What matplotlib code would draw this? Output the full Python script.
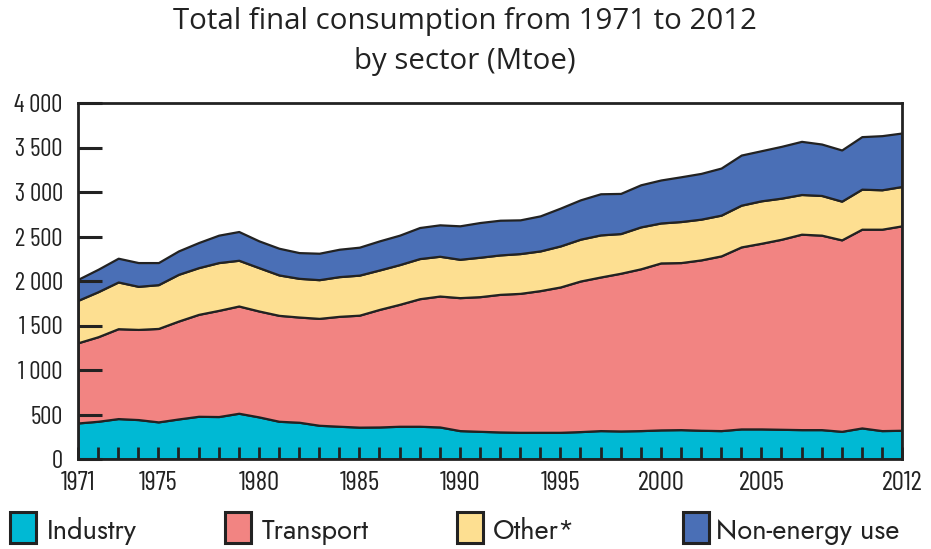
import matplotlib
matplotlib.use("Agg")
import matplotlib.pyplot as plt
from matplotlib.patches import Rectangle

years = list(range(1971, 2013))
industry = [405, 424, 454, 443, 417, 450, 480, 477, 514, 473, 424, 413, 379, 368, 358,
            360, 368, 368, 360, 319, 311, 304, 300, 300, 300, 308, 319, 315, 319, 327,
            330, 323, 319, 338, 338, 334, 330, 330, 311, 349, 319, 323]
transport = [901, 950, 1010, 1013, 1050, 1100, 1145, 1193, 1205, 1190, 1190, 1182, 1201, 1235, 1258,
             1321, 1370, 1433, 1471, 1494, 1513, 1546, 1561, 1592, 1633, 1692, 1726, 1772, 1818, 1876,
             1877, 1914, 1963, 2045, 2086, 2135, 2196, 2185, 2151, 2233, 2263, 2297]
other = [477, 506, 525, 484, 492, 525, 525, 537, 514, 487, 454, 435, 435, 446, 450,
         443, 446, 451, 447, 431, 443, 443, 447, 446, 461, 470, 473, 446, 471, 449,
         461, 458, 458, 469, 477, 462, 446, 446, 435, 450, 443, 442]
non_energy = [236, 252, 267, 267, 248, 263, 282, 308, 323, 301, 300, 289, 297, 308, 314,
              327, 331, 349, 353, 376, 390, 390, 379, 394, 425, 442, 462, 451, 473, 483,
              503, 514, 529, 563, 563, 582, 597, 578, 575, 590, 608, 601]

labels = ["Industry", "Transport", "Other*", "Non-energy use"]
colors = ["#00B9D4", "#F28482", "#FDDF91", "#4A6FB6"]
xtick_years = [1971, 1975, 1980, 1985, 1990, 1995, 2000, 2005, 2012]
ytick_vals = list(range(0, 4001, 500))
ytick_labels = ["0", "500", "1 000", "1 500", "2 000", "2 500", "3 000", "3 500", "4 000"]

cond = ["Barlow Condensed", "DejaVu Sans"]
legf = ["Jost", "DejaVu Sans"]
titf = ["Open Sans", "DejaVu Sans"]
ink = "#222222"

fig = plt.figure(figsize=(9.31, 5.49), dpi=100)
ax = fig.add_axes([78/931, 1-459/549, (902-78)/931, (459-103)/549])

ax.stackplot(years, industry, transport, other, non_energy, colors=colors,
             edgecolor=ink, linewidth=1.6)
ax.set_xlim(1971, 2012)
ax.set_ylim(0, 4000)

ax.set_yticks(ytick_vals)
ax.set_yticklabels(ytick_labels, fontsize=18, color=ink, family=cond)
ax.set_xticks(xtick_years)
ax.set_xticklabels([str(y) for y in xtick_years], fontsize=19.5, color=ink, family=cond)
ax.set_xticks(years, minor=True)
ax.tick_params(axis="y", direction="in", length=17, width=2.2, color=ink, pad=11)
ax.tick_params(axis="x", which="both", direction="in", length=9, width=2, color=ink, pad=9)
for s in ax.spines.values():
    s.set_linewidth(2)
    s.set_color(ink)
    s.set_zorder(5)

fig.text(465/931, 1-22/549, "Total final consumption from 1971 to 2012",
         ha="center", va="center", fontsize=21.2, family=titf, color=ink)
fig.text(465/931, 1-62/549, "by sector (Mtoe)",
         ha="center", va="center", fontsize=21.2, family=titf, color=ink)

sq_x = [10, 225, 457, 683]
tx_x = [47, 262, 493, 716]
for c, lab, sx, tx in zip(colors, labels, sq_x, tx_x):
    fig.patches.append(Rectangle((sx/931, 1-543/549), 26/931, 31/549,
                                 transform=fig.transFigure, facecolor=c,
                                 edgecolor=ink, linewidth=2.2))
    fig.text(tx/931, 1-531/549, lab, ha="left", va="center", fontsize=19.7,
             color=ink, family=legf)

fig.savefig("out.png", dpi=100)
